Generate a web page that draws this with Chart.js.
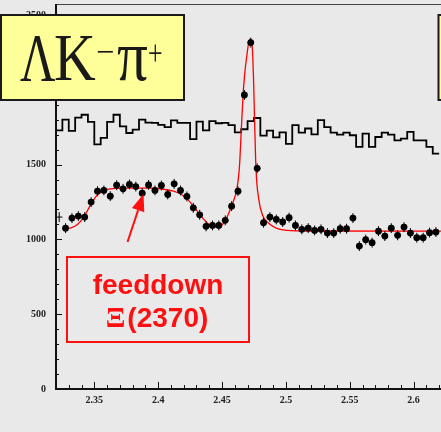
<!DOCTYPE html>
<html>
<head>
<meta charset="utf-8">
<script src="https://cdn.jsdelivr.net/npm/chart.js@4.4.1/dist/chart.umd.min.js"></script>
<style>
  html, body { margin: 0; padding: 0; background: #e9e9e9; overflow: hidden; }
  #wrap { width: 441px; height: 432px; overflow: hidden; position: relative; }
  #c { display: block; }
</style>
</head>
<body>
<div id="wrap"><canvas id="c" width="460" height="432"></canvas></div>
<script>
// Binning of the mass spectrum (GeV)
const binLow = 2.32;
const binWidth = 0.005;

// Upper histogram (step line)
const histCounts = [1729, 1800, 1725, 1813, 1833, 1785, 1635, 1678, 1785, 1833,
                    1755, 1711, 1733, 1800, 1780, 1778, 1765, 1750, 1795, 1778,
                    1778, 1670, 1787, 1728, 1790, 1776, 1778, 1764, 1715, 1736,
                    1790, 1811, 1693, 1727, 1682, 1715, 1638, 1764, 1713, 1741,
                    1702, 1797, 1750, 1713, 1700, 1713, 1696, 1618, 1707, 1618,
                    1684, 1713, 1700, 1662, 1673, 1718, 1662, 1662, 1618, 1573];

// Data points (black markers)
const dataCounts = [1149, 1075, 1142, 1156, 1149, 1249, 1322, 1327, 1289, 1362,
                    1338, 1367, 1353, 1309, 1364, 1327, 1360, 1300, 1371, 1327,
                    1287, 1211, 1164, 1087, 1093, 1093, 1127, 1222, 1322, 1965,
                    2315, 1475, 1111, 1149, 1133, 1116, 1145, 1093, 1067, 1075,
                    1060, 1067, 1042, 1042, 1071, 1071, 1142, 955, 998, 978,
                    1055, 1022, 1075, 1027, 1082, 1042, 1011, 1011, 1045, 1049];
const dataErr = 33;

// Red fit curve
const fitX = [2.3281, 2.3322, 2.3368, 2.3415, 2.3461, 2.3508, 2.3554, 2.3601, 2.3663, 2.3771,
              2.3926, 2.4043, 2.4120, 2.4182, 2.4236, 2.4291, 2.4345, 2.4391, 2.4438, 2.4477,
              2.4515, 2.4555, 2.4593, 2.4611, 2.4624, 2.4637, 2.4650, 2.4663, 2.4676, 2.4694,
              2.4709, 2.4722, 2.4735, 2.4746, 2.4756, 2.4766, 2.4787, 2.4818, 2.4870, 2.4934,
              2.5012, 2.5167, 2.6330];
const fitY = [1071, 1078, 1100, 1145, 1215, 1280, 1318, 1334, 1341, 1343,
              1342, 1335, 1322, 1300, 1262, 1205, 1145, 1105, 1082, 1085,
              1110, 1180, 1265, 1315, 1380, 1493, 1715, 1938, 2093, 2227,
              2315, 2340, 2304, 2093, 1760, 1471, 1271, 1160, 1104, 1072,
              1060, 1056, 1055];

// Tick labels
const xTickLabels = ['2.35', '2.4', '2.45', '2.5', '2.55', '2.6'];
const yTickLabels = ['0', '500', '1000', '1500', '2000', '2500'];

const histPoints = histCounts.map((v, i) => ({ x: binLow + i * binWidth, y: v }));
histPoints.push({ x: binLow + histCounts.length * binWidth, y: histCounts[histCounts.length - 1] });
const dataPoints = dataCounts.map((v, i) => ({ x: binLow + (i + 0.5) * binWidth, y: v }));
const fitPoints = fitX.map((x, i) => ({ x: x, y: fitY[i] }));

function line(ctx, x1, y1, x2, y2) {
    ctx.beginPath();
    ctx.moveTo(x1, y1);
    ctx.lineTo(x2, y2);
    ctx.stroke();
}

// Axes, ticks and error bars drawn like ROOT does
const rootAxes = {
    id: 'rootAxes',
    afterDatasetsDraw(chart) {
        const { ctx, chartArea: a, scales: { x, y } } = chart;
        ctx.save();

        // error bars
        ctx.strokeStyle = '#000';
        ctx.lineWidth = 1;
        dataPoints.forEach(p => {
            const px = x.getPixelForValue(p.x);
            line(ctx, px, y.getPixelForValue(p.y - dataErr), px, y.getPixelForValue(p.y + dataErr));
            line(ctx, x.getPixelForValue(p.x - binWidth / 2), y.getPixelForValue(p.y),
                 x.getPixelForValue(p.x + binWidth / 2), y.getPixelForValue(p.y));
        });

        // top frame
        ctx.strokeStyle = '#444';
        ctx.lineWidth = 1;
        line(ctx, a.left, a.top + 0.5, a.right, a.top + 0.5);

        // axis lines
        ctx.strokeStyle = '#111';
        ctx.lineWidth = 2;
        line(ctx, a.left, a.top, a.left, a.bottom + 1);
        line(ctx, a.left, a.bottom, a.right, a.bottom);

        // y ticks (inside)
        ctx.lineWidth = 1;
        for (let v = 0; v <= y.max; v += 100) {
            const py = Math.round(y.getPixelForValue(v)) + 0.5;
            const len = (v % 500 === 0) ? 6 : 3;
            line(ctx, a.left, py, a.left + len, py);
        }
        // x ticks (inside)
        for (let k = 233; k <= 263; k++) {
            const v = k / 100;
            const px = Math.round(x.getPixelForValue(v)) + 0.5;
            const len = (k % 5 === 0) ? 7 : 4;
            line(ctx, px, a.bottom, px, a.bottom - len);
        }
        ctx.restore();
    },
    afterDraw(chart) {
        const ctx = chart.ctx;
        ctx.save();

        // yellow label box (left)
        ctx.fillStyle = '#ffff99';
        ctx.fillRect(1, 15, 183, 85);
        ctx.strokeStyle = '#1a1a1a';
        ctx.lineWidth = 2;
        ctx.strokeRect(1, 15, 183, 85);

        // yellow box on the right, cut off
        ctx.fillRect(438, 15, 40, 85);
        ctx.strokeRect(438.5, 15, 40, 85);

        ctx.fillStyle = '#1a1a1a';
        ctx.textBaseline = 'alphabetic';
        ctx.textAlign = 'left';
        function glyph(txt, size, left, base, sx) {
            ctx.save();
            ctx.font = size + 'px "Liberation Serif"';
            ctx.translate(left, base);
            ctx.scale(sx, 1);
            ctx.fillText(txt, 0, 0);
            ctx.restore();
        }
        glyph('\u039B', 68, 20, 80, 0.72);
        glyph('K', 68, 54, 80, 0.85);
        glyph('\u2212', 34, 96, 63, 0.95);
        glyph('\u03C0', 72, 117, 80, 0.85);
        glyph('+', 36, 148, 65, 0.72);

        // red box with the feeddown note
        ctx.strokeStyle = '#ff1010';
        ctx.lineWidth = 2;
        ctx.strokeRect(67, 257, 182, 85);
        ctx.fillStyle = '#ff1010';
        ctx.textAlign = 'center';
        ctx.font = 'bold 28px "Liberation Sans"';
        ctx.fillText('feeddown', 158, 294);

        ctx.textAlign = 'left';
        ctx.font = 'bold 29px "Liberation Serif"';
        const xiW = ctx.measureText('\u039E').width;
        ctx.font = 'bold 28px "Liberation Sans"';
        const numW = ctx.measureText('(2370)').width;
        const start = 157 - (xiW + 2 + numW) / 2;
        ctx.font = 'bold 29px "Liberation Serif"';
        ctx.fillText('\u039E', start, 327);
        ctx.font = 'bold 28px "Liberation Sans"';
        ctx.fillText('(2370)', start + xiW + 2, 327);

        // arrow
        const tipX = 143.5, tipY = 194, tailX = 127.5, tailY = 242;
        const ang = Math.atan2(tipY - tailY, tipX - tailX);
        const hl = 17, hw = 6.5;
        const bx = tipX - hl * Math.cos(ang), by = tipY - hl * Math.sin(ang);
        ctx.lineWidth = 2;
        line(ctx, tailX, tailY, bx, by);
        ctx.beginPath();
        ctx.moveTo(tipX, tipY);
        ctx.lineTo(bx + hw * Math.sin(ang), by - hw * Math.cos(ang));
        ctx.lineTo(bx - hw * Math.sin(ang), by + hw * Math.cos(ang));
        ctx.closePath();
        ctx.fill();

        ctx.restore();
    }
};

const tickFont = { family: '"Liberation Serif"', size: 10, weight: 'bold' };

new Chart(document.getElementById('c'), {
    type: 'scatter',
    data: {
        datasets: [
            {
                label: 'data',
                data: dataPoints,
                showLine: false,
                backgroundColor: '#000',
                borderColor: '#000',
                pointRadius: ctx => ctx.dataIndex === 0 ? 0 : 3.4,
                pointBorderWidth: 0
            },
            {
                label: 'fit',
                data: fitPoints,
                showLine: true,
                borderColor: '#ff0000',
                borderWidth: 1.3,
                pointRadius: 0,
                cubicInterpolationMode: 'monotone'
            },
            {
                label: 'hist',
                data: histPoints,
                showLine: true,
                stepped: true,
                borderColor: '#000',
                borderWidth: 1.8,
                pointRadius: 0
            }
        ]
    },
    options: {
        responsive: false,
        animation: false,
        devicePixelRatio: 1,
        layout: { padding: { top: 3, right: 0, left: 0, bottom: 0 } },
        plugins: { legend: { display: false }, tooltip: { enabled: false } },
        scales: {
            x: {
                type: 'linear',
                min: 2.32,
                max: 2.6332,
                grid: { display: false, drawTicks: false },
                border: { display: false },
                afterFit: s => {
                    s.height = 43;
                    s.paddingLeft = 0; s.paddingRight = 0;
                    s.paddingTop = 0; s.paddingBottom = 0;
                },
                afterBuildTicks: s => {
                    s.ticks = xTickLabels.map(t => ({ value: parseFloat(t) }));
                },
                ticks: {
                    autoSkip: false,
                    maxRotation: 0,
                    padding: 5,
                    color: '#222',
                    font: tickFont,
                    callback: (v, i) => xTickLabels[i]
                }
            },
            y: {
                min: 0,
                max: 2573,
                grid: { display: false, drawTicks: false },
                border: { display: false },
                afterFit: s => {
                    s.width = 56;
                    s.paddingLeft = 0; s.paddingRight = 0;
                    s.paddingTop = 0; s.paddingBottom = 0;
                },
                afterBuildTicks: s => {
                    s.ticks = yTickLabels.map(t => ({ value: parseFloat(t) }));
                },
                ticks: {
                    padding: 10,
                    color: '#222',
                    font: tickFont,
                    callback: (v, i) => yTickLabels[i]
                }
            }
        }
    },
    plugins: [rootAxes]
});
</script>
</body>
</html>
